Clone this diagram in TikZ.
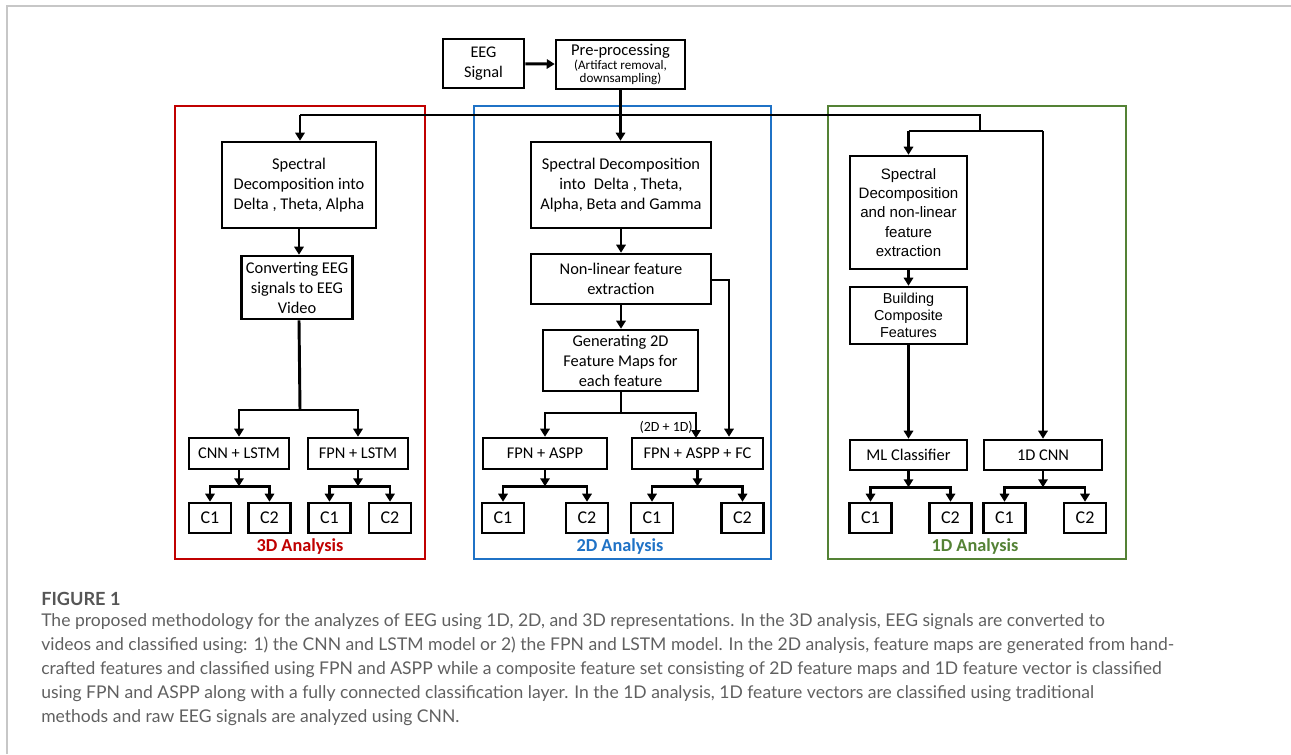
\documentclass[tikz,border=0pt]{standalone}
\usepackage{fontspec}
\setmainfont{Carlito}
\newfontfamily\arialf{Liberation Sans}
\newfontfamily\capf{Lato}
\usetikzlibrary{arrows.meta,calc}
\definecolor{fr3}{HTML}{C00000}
\definecolor{fr2}{HTML}{1F72C6}
\definecolor{fr1}{HTML}{548235}
\definecolor{capgray}{HTML}{606060}
\tikzset{
  box/.style={draw, line width=1.9pt, align=center, inner sep=0pt, font=\fontsize{12.3}{15}\selectfont},
  sz/.style 2 args={minimum width=#1*0.75pt, minimum height=#2*0.75pt},
  cbox/.style={box, sz={42}{30}, font=\fontsize{13.5}{15}\selectfont},
  ln/.style={line width=2.2pt},
  ar/.style={ln, -{Triangle[length=6pt,width=7pt]}},
  frame/.style={line width=2pt},
  flabel/.style={font=\fontsize{13.7}{15}\selectfont\bfseries},
  capline/.style={anchor=base west, inner sep=0pt, text=capgray, font=\capf\fontsize{13.15}{15}\selectfont}
}
\newcommand\splitto[3]{%
  \coordinate (#1s) at ($(#1.south)+(0,16)$);
  \draw[ar] (#1.south) -- (#1s);
  \draw[ar] (#1s) -| (#2);
  \draw[ar] (#1s) -| (#3);
}
\begin{document}
\begin{tikzpicture}[x=0.75pt,y=-0.75pt]
\useasboundingbox (0,0) rectangle (1291,754);
\draw[black!22, line width=1.2pt] (7,754) -- (7,6) -- (1291,6);

% top
\node[box, sz={81}{49}, font=\fontsize{12.2}{15}\selectfont] (eeg) at (483.5,63.5) {EEG\\Signal};
\node[box, sz={129}{49}, font=\fontsize{9.8}{10.4}\selectfont] (pre) at (620.5,64.5) {{\fontsize{12.4}{12.4}\selectfont Pre-processing}\\(Artifact removal,\\downsampling)};
\draw[ar] (eeg) -- (pre);

% frames
\draw[frame, fr3] (175,106) rectangle (425,559);
\draw[frame, fr2] (474,106) rectangle (771,559);
\draw[frame, fr1] (828,106) rectangle (1126,559);
\node[flabel, text=fr3] (l3) at (300,547) {3D Analysis};
\node[flabel, text=fr2] (l2) at (620,547) {2D Analysis};
\node[flabel, text=fr1] (l1) at (975,547) {1D Analysis};

% 3D panel
\node[box, sz={154}{86}] (s3) at (299,185) {Spectral\\Decomposition into\\Delta , Theta, Alpha};
\node[box, sz={111}{63}] (conv) at (297,287.5) {Converting EEG\\signals to EEG\\Video};
\node[box, sz={100}{31}] (cnnl) at (239,453.5) {CNN + LSTM};
\node[box, sz={100}{31}] (fpnl) at (358,453.5) {FPN + LSTM};
\node[cbox] (a1) at (210,518) {C1};
\node[cbox] (a2) at (269.5,518) {C2};
\node[cbox] (b1) at (329.5,518) {C1};
\node[cbox] (b2) at (390,518) {C2};

% 2D panel
\node[box, sz={180}{86}] (s2) at (621,185) {Spectral Decomposition\\into\; Delta , Theta,\\Alpha, Beta and Gamma};
\node[box, sz={180}{50}] (nl) at (621,279) {Non-linear feature\\extraction};
\node[box, sz={155}{61}] (gen) at (620.5,360.5) {Generating 2D\\Feature Maps for\\each feature};
\node[box, sz={124}{31}] (fa) at (545,453.5) {FPN + ASPP};
\node[box, sz={131}{31}] (faf) at (697.5,453.5) {FPN + ASPP + FC};
\node[cbox] (c1) at (503,518) {C1};
\node[cbox] (c2) at (587,518) {C2};
\node[cbox] (d1) at (652,518) {C1};
\node[cbox] (d2) at (742.5,518) {C2};
\node[font=\fontsize{10.5}{12}\selectfont, anchor=east, inner sep=0pt] (lab21) at (693,427) {(2D + 1D)};

% 1D panel
\node[box, sz={117}{113}, font=\arialf\fontsize{11.3}{14.5}\selectfont] (s1) at (908.5,212.5) {Spectral\\Decomposition\\and non-linear\\feature\\extraction};
\node[box, sz={117}{57}, font=\arialf\fontsize{10.8}{12.5}\selectfont] (build) at (908.5,315.5) {Building\\Composite\\Features};
\node[box, sz={117}{30}] (ml) at (908.5,455) {ML Classifier};
\node[box, sz={118}{30}] (cnn1) at (1043,455) {1D CNN};
\node[cbox] (e1) at (870.5,518) {C1};
\node[cbox] (e2) at (950.5,518) {C2};
\node[cbox] (f1) at (1004.5,518) {C1};
\node[cbox] (f2) at (1085,518) {C2};

% spine
\coordinate (spL) at (300,115);
\coordinate (spR) at (980,115);
\coordinate (jR) at (980,131);
\coordinate (jA) at (908.5,131);
\coordinate (jB) at (1043,131);
\draw[ln] (spL) -- (spR) -- (jR);
\draw[ln] (jA) -- (jB);
\draw[ar] (pre.south) -- (pre.south |- s2.north);
\draw[ar] (spL) -- (spL |- s3.north);
\draw[ar] (jA) -- (s1.north);
\draw[ar] (jB) -- (cnn1.north);

% 3D connectors
\draw[ar] (s3.south) -- (s3.south |- conv.north);
\coordinate (sp3) at (300,410);
\draw[ln] (s3.south |- conv.south) -- (sp3);
\draw[ar] (sp3) -| (cnnl);
\draw[ar] (sp3) -| (fpnl);
\splitto{cnnl}{a1}{a2}
\splitto{fpnl}{b1}{b2}

% 2D connectors
\draw[ar] (s2.south) -- (nl.north);
\draw[ar] (nl.south) -- (nl.south |- gen.north);
\coordinate (sp2) at (621,413);
\draw[ln] (nl.south |- gen.south) -- (sp2);
\draw[ar] (sp2) -| (fa);
\draw[ar] (sp2) -| (696,438);
\coordinate (nlc) at (729,280);
\draw[ar] (nl.east |- nlc) -- (nlc) -- (nlc |- faf.north);
\splitto{fa}{c1}{c2}
\splitto{faf}{d1}{d2}

% 1D connectors
\draw[ar] (s1) -- (build);
\draw[ar] (build) -- (ml);
\splitto{ml}{e1}{e2}
\splitto{cnn1}{f1}{f2}

% caption
\node[anchor=base west, inner sep=0pt, text=capgray!90!black, font=\capf\bfseries\fontsize{13.6}{15}\selectfont] (fig) at (41,605) {FIGURE 1};
\node[capline] (cap1) at (41,626) {The proposed methodology for the analyzes of EEG using 1D, 2D, and 3D representations. In the 3D analysis, EEG signals are converted to};
\node[capline] (cap2) at (41,650) {videos and classified using: 1) the CNN and LSTM model or 2) the FPN and LSTM model. In the 2D analysis, feature maps are generated from hand-};
\node[capline] (cap3) at (41,674) {crafted features and classified using FPN and ASPP while a composite feature set consisting of 2D feature maps and 1D feature vector is classified};
\node[capline] (cap4) at (41,698) {using FPN and ASPP along with a fully connected classification layer. In the 1D analysis, 1D feature vectors are classified using traditional};
\node[capline] (cap5) at (41,722) {methods and raw EEG signals are analyzed using CNN.};
\end{tikzpicture}
\end{document}
